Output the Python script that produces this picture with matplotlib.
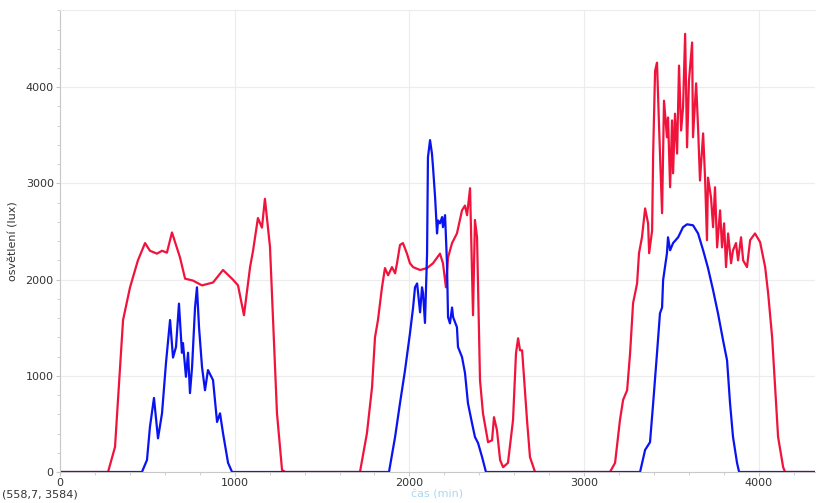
import matplotlib.pyplot as plt
from matplotlib.ticker import MultipleLocator

# red series: time (min) and illuminance (lux)
red_t = [0, 275, 315, 361, 401, 446, 487, 515, 555, 584, 612, 641, 687, 716, 761, 813, 876,
         933, 990, 1019, 1053, 1088, 1105, 1133, 1156, 1173, 1202, 1242, 1271, 1290,
         1717, 1757, 1786, 1803, 1820, 1843, 1860, 1878, 1900, 1918, 1929, 1946, 1963, 1986,
         2003, 2021, 2061, 2101, 2135, 2175, 2192, 2209, 2221, 2244, 2272, 2301, 2318, 2330,
         2347, 2364, 2375, 2387, 2404, 2421, 2450, 2473, 2484, 2501, 2519, 2536, 2564, 2593,
         2610, 2622, 2633, 2645, 2656, 2673, 2690, 2719,
         3148, 3177, 3205, 3223, 3246, 3263, 3280, 3303, 3314, 3331, 3349, 3366, 3372, 3389,
         3395, 3406, 3417, 3429, 3446, 3457, 3474, 3480, 3492, 3503, 3509, 3520, 3532, 3543,
         3555, 3566, 3578, 3589, 3600, 3618, 3623, 3641, 3652, 3663, 3681, 3692, 3703, 3709,
         3726, 3738, 3749, 3761, 3778, 3789, 3801, 3812, 3824, 3841, 3852, 3869, 3881, 3898,
         3910, 3932, 3950, 3978, 4007, 4036, 4053, 4076, 4093, 4110, 4139, 4150, 4330]
red_lux = [0, 0, 260, 1580, 1920, 2200, 2380, 2300, 2270, 2300, 2280, 2490, 2230, 2010, 1990, 1940, 1970,
           2100, 2000, 1940, 1630, 2130, 2300, 2640, 2540, 2840, 2340, 610, 20, 0,
           0, 405, 880, 1400, 1580, 1920, 2120, 2045, 2130, 2065, 2170, 2360, 2380, 2270,
           2170, 2130, 2100, 2120, 2170, 2270, 2170, 1920, 2230, 2380, 2480, 2720, 2770, 2670,
           2950, 1630, 2620, 2440, 955, 610, 310, 330, 570, 435, 125, 50, 95, 540,
           1235, 1390, 1265, 1265, 985, 540, 155, 0,
           0, 95, 540, 750, 850, 1235, 1755, 1960, 2275, 2440, 2740, 2585, 2275, 2510,
           3310, 4170, 4255, 3580, 2690, 3860, 3480, 3685, 2960, 3655, 3105, 3725, 3310, 4225,
           3550, 3790, 4555, 3375, 4070, 4465, 3480, 4040, 3580, 3030, 3520, 3060, 2410, 3060,
           2855, 2545, 2960, 2335, 2720, 2335, 2585, 2130, 2480, 2170, 2305, 2380, 2200, 2440,
           2200, 2130, 2410, 2480, 2390, 2130, 1860, 1400, 880, 365, 50, 0, 0]

# blue series
blue_t = [0, 469, 498, 515, 538, 561, 584, 607, 630, 647, 664, 681, 698, 704, 721, 733, 744,
          756, 773, 784, 796, 813, 830, 847, 876, 899, 916, 933, 962, 985,
          1883, 1918, 1946, 1975, 2003, 2021, 2032, 2044, 2061, 2072, 2078, 2089, 2101, 2106,
          2118, 2129, 2135, 2147, 2158, 2164, 2175, 2187, 2192, 2204, 2215, 2221, 2232, 2244,
          2250, 2272, 2278, 2301, 2318, 2335, 2358, 2375, 2393, 2416, 2438,
          3320, 3349, 3377, 3395, 3417, 3434, 3446, 3452, 3474, 3480, 3492, 3509, 3538, 3566,
          3589, 3623, 3652, 3681, 3709, 3738, 3766, 3795, 3818, 3835, 3852, 3875, 3887, 4330]
blue_lux = [0, 0, 125, 470, 770, 350, 610, 1140, 1580, 1190, 1300, 1750, 1240, 1340, 990, 1240, 820,
            1090, 1710, 1920, 1500, 1090, 850, 1060, 955, 520, 610, 405, 95, 0,
            0, 365, 715, 1060, 1440, 1710, 1920, 1960, 1660, 1920, 1860, 1550, 2270, 3270,
            3450, 3310, 3170, 2855, 2480, 2615, 2585, 2650, 2545, 2670, 2170, 1610, 1545, 1710,
            1610, 1505, 1300, 1195, 1030, 715, 510, 365, 300, 155, 0,
            0, 230, 310, 715, 1235, 1650, 1710, 1995, 2275, 2440, 2305, 2380, 2440, 2545,
            2575, 2565, 2480, 2305, 2120, 1890, 1650, 1370, 1160, 715, 365, 95, 0, 0]

fig = plt.figure(figsize=(8.16, 5.03), dpi=100)
ax = fig.add_axes([0.0735, 0.0616, 0.925, 0.918])

ax.plot(red_t, red_lux, color='#f0143c', lw=1.6)
ax.plot(blue_t, blue_lux, color='#0a14f0', lw=1.6)

ax.set_xlim(0, 4320)
ax.set_ylim(0, 4800)
ax.xaxis.set_major_locator(MultipleLocator(1000))
ax.xaxis.set_minor_locator(MultipleLocator(200))
ax.yaxis.set_major_locator(MultipleLocator(1000))
ax.yaxis.set_minor_locator(MultipleLocator(200))
ax.grid(True, which='major', color='#ececec', lw=0.8)
ax.set_axisbelow(True)

for s in ['left', 'bottom']:
    ax.spines[s].set_color('#c8c8c8')
ax.spines['top'].set_color('#ececec')
ax.spines['right'].set_visible(False)
ax.tick_params(which='both', colors='#c8c8c8', labelcolor='#333333', labelsize=8, direction='out')
ax.tick_params(which='major', length=3, pad=1.5)
ax.tick_params(which='minor', length=2.5)

ax.set_ylabel('osvětlení (lux)', fontsize=8, color='#333333', labelpad=5)
ax.set_xlabel('čas (min)', fontsize=8, color='#a8d8f0', labelpad=1)
fig.text(0.002, 0.011, '(558,7, 3584)', fontsize=8, color='#333333')

fig.savefig('out.png', dpi=100)
